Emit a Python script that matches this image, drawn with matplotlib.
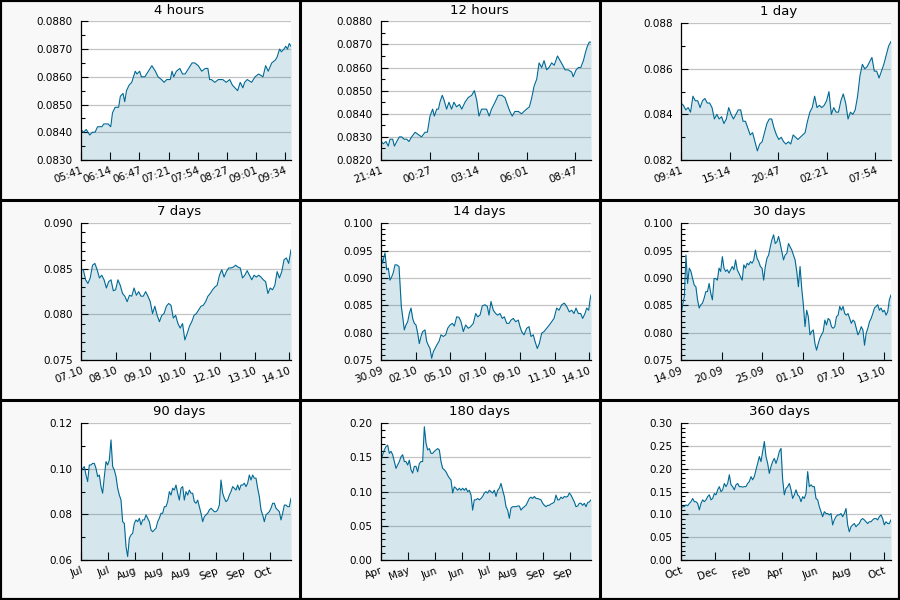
import numpy as np
import matplotlib
matplotlib.use("Agg")
import matplotlib.pyplot as plt
from matplotlib.ticker import MultipleLocator, FormatStrFormatter
from matplotlib.lines import Line2D

# ---- data ----
titles = ["4 hours", "12 hours", "1 day", "7 days", "14 days", "30 days",
          "90 days", "180 days", "360 days"]

# window length and x tick step, in hours
spans_h = [4, 12, 24, 168, 336, 720, 2160, 4320, 8640]
tick_step_h = [2000 / 3600, 10000 / 3600, 20000 / 3600, 100000 / 3600, 200000 / 3600,
               500000 / 3600, 1e6 / 3600, 2e6 / 3600, 5e6 / 3600]

labels_4h = ["05:41", "06:14", "06:47", "07:21", "07:54", "08:27", "09:01", "09:34"]
labels_12h = ["21:41", "00:27", "03:14", "06:01", "08:47"]
labels_1d = ["09:41", "15:14", "20:47", "02:21", "07:54"]
labels_7d = ["07.10", "08.10", "09.10", "10.10", "12.10", "13.10", "14.10"]
labels_14d = ["30.09", "02.10", "05.10", "07.10", "09.10", "11.10", "14.10"]
labels_30d = ["14.09", "20.09", "25.09", "01.10", "07.10", "13.10"]
labels_90d = ["Jul", "Jul", "Aug", "Aug", "Aug", "Sep", "Sep", "Oct"]
labels_180d = ["Apr", "May", "Jun", "Jun", "Jul", "Aug", "Sep", "Sep"]
labels_360d = ["Oct", "Dec", "Feb", "Apr", "Jun", "Aug", "Oct"]

# minutes since 05:41
t_4h = [0, 3, 6, 8, 10, 13, 16, 19, 24, 26, 31, 34, 36, 39, 43, 45, 48, 50, 52, 55,
        58, 60, 62, 64, 67, 69, 73, 77, 81, 85, 88, 92, 95, 98, 102, 104, 106, 109, 113, 116,
        119, 123, 127, 130, 134, 138, 142, 145, 147, 149, 153, 157, 162, 166, 170, 173, 176, 179, 182, 185,
        187, 190, 195, 199, 203, 208, 211, 214, 218, 222, 224, 227, 229, 232, 234, 236, 238, 240]
v_4h = [0.0841, 0.0840, 0.0841, 0.0840, 0.0839, 0.0840, 0.0840, 0.0842, 0.0842, 0.0843,
        0.0843, 0.0842, 0.0847, 0.0849, 0.0849, 0.0853, 0.0854, 0.0851, 0.0855, 0.0857,
        0.0858, 0.0860, 0.0862, 0.0861, 0.0862, 0.0860, 0.0860, 0.0862, 0.0864, 0.0862,
        0.0860, 0.0859, 0.0858, 0.0859, 0.0859, 0.0862, 0.0860, 0.0862, 0.0863, 0.0861,
        0.0861, 0.0863, 0.0865, 0.0865, 0.0864, 0.0862, 0.0863, 0.0863, 0.0859, 0.0859,
        0.0858, 0.0859, 0.0859, 0.0858, 0.0859, 0.0857, 0.0856, 0.0855, 0.0858, 0.0856,
        0.0858, 0.0859, 0.0858, 0.0860, 0.0861, 0.0860, 0.0864, 0.0862, 0.0865, 0.0866,
        0.0867, 0.0870, 0.0869, 0.0870, 0.0871, 0.0870, 0.0872, 0.0871]

# minutes since 21:41
t_12h = [0, 8, 17, 25, 31, 40, 46, 54, 63, 71, 79, 88, 96, 105, 117, 128, 139, 151, 159, 168,
         177, 183, 191, 197, 202, 210, 216, 225, 233, 242, 250, 259, 269, 277, 288, 299, 311, 320, 328, 336,
         345, 354, 362, 371, 379, 391, 402, 414, 425, 433, 442, 450, 459, 471, 482, 490, 499, 509, 517, 525,
         534, 542, 551, 559, 568, 576, 585, 594, 605, 614, 623, 631, 642, 654, 659, 669, 677, 685, 694, 702,
         707, 714, 720]
v_12h = [0.0828, 0.0827, 0.0828, 0.0826, 0.0829, 0.0829, 0.0826, 0.0828, 0.0830, 0.0830,
         0.0829, 0.0829, 0.0828, 0.0830, 0.0832, 0.0831, 0.0830, 0.0832, 0.0832, 0.0839,
         0.0842, 0.0839, 0.0842, 0.0842, 0.0845, 0.0848, 0.0846, 0.0842, 0.0845, 0.0842,
         0.0845, 0.0843, 0.0844, 0.0842, 0.0845, 0.0847, 0.0848, 0.0850, 0.0846, 0.0839,
         0.0842, 0.0842, 0.0842, 0.0839, 0.0842, 0.0845, 0.0848, 0.0848, 0.0847, 0.0844,
         0.0841, 0.0839, 0.0841, 0.0841, 0.0840, 0.0841, 0.0842, 0.0843, 0.0847, 0.0852,
         0.0855, 0.0862, 0.0860, 0.0863, 0.0859, 0.0860, 0.0862, 0.0861, 0.0865, 0.0863,
         0.0861, 0.0859, 0.0859, 0.0858, 0.0856, 0.0859, 0.0860, 0.0860, 0.0863, 0.0867,
         0.0869, 0.0871, 0.0871]

v_1d = [0.0845, 0.0844, 0.0842, 0.0843, 0.0841, 0.0848, 0.0846, 0.0846, 0.0843, 0.0846,
        0.0847, 0.0845, 0.0845, 0.0843, 0.0838, 0.0840, 0.0838, 0.0839, 0.0836, 0.0838,
        0.0843, 0.0840, 0.0838, 0.0840, 0.0842, 0.0842, 0.0837, 0.0837, 0.0834, 0.0831,
        0.0832, 0.0828, 0.0824, 0.0827, 0.0828, 0.0832, 0.0836, 0.0838, 0.0838, 0.0834,
        0.0831, 0.0829, 0.0830, 0.0828, 0.0827, 0.0828, 0.0827, 0.0831, 0.0830, 0.0829,
        0.0830, 0.0831, 0.0832, 0.0837, 0.0841, 0.0843, 0.0848, 0.0843, 0.0844, 0.0843,
        0.0844, 0.0846, 0.0850, 0.0840, 0.0843, 0.0841, 0.0841, 0.0846, 0.0849, 0.0845,
        0.0838, 0.0841, 0.0840, 0.0842, 0.0848, 0.0857, 0.0862, 0.0860, 0.0861, 0.0863,
        0.0865, 0.0859, 0.0859, 0.0856, 0.0859, 0.0862, 0.0866, 0.0870, 0.0872]

v_7d = [0.0849, 0.0849, 0.0838, 0.0834, 0.0840, 0.0854, 0.0856, 0.0849, 0.0840, 0.0843,
        0.0838, 0.0829, 0.0836, 0.0838, 0.0826, 0.0827, 0.0838, 0.0832, 0.0823, 0.0820,
        0.0814, 0.0821, 0.0820, 0.0829, 0.0821, 0.0825, 0.0820, 0.0820, 0.0825, 0.0820,
        0.0814, 0.0801, 0.0809, 0.0799, 0.0792, 0.0799, 0.0801, 0.0809, 0.0812, 0.0810,
        0.0796, 0.0799, 0.0790, 0.0785, 0.0790, 0.0772, 0.0779, 0.0787, 0.0792, 0.0799,
        0.0801, 0.0805, 0.0809, 0.0810, 0.0814, 0.0820, 0.0823, 0.0827, 0.0830, 0.0832,
        0.0843, 0.0849, 0.0841, 0.0847, 0.0851, 0.0851, 0.0852, 0.0854, 0.0852, 0.0851,
        0.0840, 0.0843, 0.0848, 0.0843, 0.0838, 0.0843, 0.0841, 0.0843, 0.0841, 0.0838,
        0.0836, 0.0823, 0.0829, 0.0827, 0.0832, 0.0847, 0.0840, 0.0847, 0.0860, 0.0862,
        0.0856, 0.0871]

# hours since 30.09
t_14d = [0, 2.7, 4.8, 6.4, 9.1, 11.7, 14.4, 17.1, 19.7, 22.4, 25.1, 28.8, 30.4, 32.5, 34.7,
         37.3, 40.0, 42.7, 45.3, 48.0, 50.7, 53.3, 56.0, 58.7, 61.3, 64.0, 66.7, 70.4, 73.1, 75.7,
         78.4, 81.1, 83.7, 86.4, 89.1, 92.8, 96.0, 99.7, 103.5, 106.7, 110.4, 114.1, 117.3, 121.1, 124.8,
         128.0, 131.7, 135.5, 139.7, 143.5, 147.7, 151.5, 154.7, 158.4, 162.1, 166.4, 170.1, 172.8, 176.0, 179.7,
         183.5, 186.7, 190.4, 194.1, 197.3, 201.1, 204.8, 208.0, 211.7, 215.5, 219.7, 222.4, 225.1, 228.8, 233.1,
         236.8, 240.0, 243.7, 246.4, 250.1, 253.3, 257.1, 260.8, 265.1, 269.3, 273.1, 276.8, 281.1, 284.8, 289.1,
         293.3, 297.1, 301.3, 305.1, 308.8, 312.0, 315.7, 319.5, 322.7, 326.4, 329.1, 332.3, 334.4, 336.0]
v_14d = [0.0942, 0.0927, 0.0939, 0.0946, 0.0915, 0.0918, 0.0896, 0.0902, 0.0910, 0.0924,
         0.0924, 0.0921, 0.0890, 0.0848, 0.0829, 0.0805, 0.0814, 0.0820, 0.0835, 0.0845,
         0.0826, 0.0817, 0.0814, 0.0799, 0.0780, 0.0793, 0.0802, 0.0805, 0.0784, 0.0777,
         0.0771, 0.0753, 0.0765, 0.0771, 0.0777, 0.0784, 0.0796, 0.0793, 0.0796, 0.0808,
         0.0814, 0.0817, 0.0812, 0.0829, 0.0828, 0.0820, 0.0802, 0.0814, 0.0808, 0.0811,
         0.0817, 0.0835, 0.0829, 0.0832, 0.0849, 0.0851, 0.0848, 0.0832, 0.0857, 0.0841,
         0.0835, 0.0832, 0.0835, 0.0826, 0.0829, 0.0817, 0.0817, 0.0823, 0.0826, 0.0820,
         0.0823, 0.0811, 0.0802, 0.0796, 0.0808, 0.0811, 0.0793, 0.0796, 0.0784, 0.0771,
         0.0780, 0.0799, 0.0802, 0.0808, 0.0814, 0.0820, 0.0826, 0.0845, 0.0841, 0.0851,
         0.0854, 0.0848, 0.0838, 0.0841, 0.0835, 0.0845, 0.0835, 0.0835, 0.0826, 0.0835,
         0.0845, 0.0841, 0.0860, 0.0869]

v_30d = [0.0832, 0.0851, 0.0866, 0.0942, 0.0890, 0.0918, 0.0912, 0.0899, 0.0887, 0.0884,
         0.0860, 0.0845, 0.0851, 0.0854, 0.0863, 0.0875, 0.0875, 0.0890, 0.0872, 0.0860,
         0.0899, 0.0899, 0.0896, 0.0918, 0.0912, 0.0939, 0.0918, 0.0912, 0.0915, 0.0909,
         0.0915, 0.0921, 0.0915, 0.0933, 0.0915, 0.0909, 0.0902, 0.0896, 0.0924, 0.0918,
         0.0927, 0.0924, 0.0930, 0.0927, 0.0933, 0.0951, 0.0936, 0.0930, 0.0921, 0.0918,
         0.0896, 0.0921, 0.0936, 0.0942, 0.0957, 0.0970, 0.0979, 0.0963, 0.0966, 0.0976,
         0.0963, 0.0948, 0.0933, 0.0942, 0.0945, 0.0963, 0.0957, 0.0951, 0.0942, 0.0933,
         0.0912, 0.0884, 0.0921, 0.0881, 0.0851, 0.0811, 0.0841, 0.0829, 0.0796, 0.0802,
         0.0805, 0.0780, 0.0768, 0.0780, 0.0790, 0.0796, 0.0802, 0.0823, 0.0814, 0.0826,
         0.0823, 0.0811, 0.0808, 0.0811, 0.0829, 0.0832, 0.0848, 0.0841, 0.0848, 0.0835,
         0.0832, 0.0835, 0.0826, 0.0817, 0.0823, 0.0820, 0.0808, 0.0796, 0.0802, 0.0811,
         0.0805, 0.0777, 0.0799, 0.0808, 0.0820, 0.0826, 0.0835, 0.0845, 0.0848, 0.0851,
         0.0841, 0.0845, 0.0838, 0.0841, 0.0832, 0.0838, 0.0860, 0.0869]

v_90d = [0.0988, 0.1002, 0.1010, 0.0973, 0.0944, 0.1017, 0.1017, 0.1024, 0.1024, 0.1002,
         0.0966, 0.0973, 0.0922, 0.0893, 0.0966, 0.1032, 0.1017, 0.1039, 0.1127, 0.1010,
         0.0995, 0.0966, 0.0915, 0.0885, 0.0863, 0.0768, 0.0761, 0.0659, 0.0615, 0.0695,
         0.0710, 0.0717, 0.0761, 0.0776, 0.0768, 0.0783, 0.0754, 0.0776, 0.0776, 0.0798,
         0.0783, 0.0768, 0.0732, 0.0724, 0.0732, 0.0739, 0.0768, 0.0783, 0.0805, 0.0805,
         0.0834, 0.0834, 0.0856, 0.0900, 0.0885, 0.0915, 0.0907, 0.0929, 0.0893, 0.0863,
         0.0915, 0.0922, 0.0863, 0.0900, 0.0885, 0.0907, 0.0893, 0.0893, 0.0856, 0.0849,
         0.0863, 0.0834, 0.0805, 0.0768, 0.0790, 0.0798, 0.0805, 0.0820, 0.0827, 0.0820,
         0.0812, 0.0812, 0.0820, 0.0841, 0.0951, 0.0893, 0.0871, 0.0856, 0.0863, 0.0885,
         0.0900, 0.0922, 0.0915, 0.0907, 0.0929, 0.0907, 0.0929, 0.0929, 0.0937, 0.0922,
         0.0937, 0.0973, 0.0951, 0.0973, 0.0959, 0.0959, 0.0915, 0.0878, 0.0820, 0.0798,
         0.0768, 0.0798, 0.0805, 0.0812, 0.0827, 0.0849, 0.0849, 0.0827, 0.0820, 0.0812,
         0.0776, 0.0805, 0.0841, 0.0841, 0.0834, 0.0834, 0.0871]

v_180d = [0.146, 0.154, 0.161, 0.166, 0.168, 0.156, 0.159, 0.154, 0.144, 0.134,
          0.139, 0.144, 0.151, 0.154, 0.144, 0.144, 0.139, 0.146, 0.132, 0.127,
          0.137, 0.137, 0.129, 0.141, 0.144, 0.144, 0.195, 0.171, 0.161, 0.163,
          0.156, 0.156, 0.159, 0.161, 0.163, 0.161, 0.144, 0.134, 0.132, 0.129,
          0.124, 0.120, 0.117, 0.098, 0.107, 0.105, 0.102, 0.105, 0.102, 0.105,
          0.102, 0.105, 0.100, 0.102, 0.095, 0.073, 0.088, 0.088, 0.090, 0.088,
          0.090, 0.093, 0.098, 0.100, 0.098, 0.102, 0.100, 0.098, 0.102, 0.093,
          0.102, 0.105, 0.112, 0.102, 0.093, 0.078, 0.073, 0.061, 0.076, 0.078,
          0.078, 0.078, 0.079, 0.079, 0.073, 0.076, 0.078, 0.080, 0.085, 0.090,
          0.092, 0.090, 0.093, 0.090, 0.090, 0.089, 0.088, 0.083, 0.080, 0.078,
          0.080, 0.080, 0.082, 0.083, 0.085, 0.095, 0.088, 0.088, 0.092, 0.090,
          0.093, 0.092, 0.093, 0.098, 0.095, 0.090, 0.085, 0.078, 0.079, 0.083,
          0.083, 0.080, 0.083, 0.078, 0.084, 0.085, 0.088]

v_360d = [0.113, 0.117, 0.117, 0.121, 0.119, 0.124, 0.128, 0.135, 0.128, 0.128,
          0.124, 0.110, 0.124, 0.132, 0.128, 0.132, 0.139, 0.143, 0.132, 0.135,
          0.146, 0.143, 0.154, 0.161, 0.150, 0.154, 0.168, 0.161, 0.168, 0.187,
          0.165, 0.161, 0.154, 0.165, 0.168, 0.161, 0.161, 0.160, 0.161, 0.161,
          0.168, 0.172, 0.183, 0.176, 0.183, 0.198, 0.212, 0.227, 0.216, 0.238,
          0.260, 0.227, 0.212, 0.190, 0.205, 0.216, 0.223, 0.212, 0.223, 0.238,
          0.245, 0.176, 0.143, 0.157, 0.161, 0.168, 0.154, 0.135, 0.143, 0.154,
          0.143, 0.139, 0.128, 0.139, 0.135, 0.146, 0.194, 0.161, 0.165, 0.161,
          0.161, 0.135, 0.132, 0.117, 0.106, 0.095, 0.106, 0.102, 0.102, 0.099,
          0.102, 0.077, 0.088, 0.095, 0.099, 0.099, 0.102, 0.095, 0.102, 0.113,
          0.077, 0.062, 0.073, 0.077, 0.080, 0.073, 0.077, 0.080, 0.088, 0.091,
          0.088, 0.084, 0.080, 0.084, 0.084, 0.088, 0.091, 0.091, 0.088, 0.095,
          0.099, 0.091, 0.077, 0.084, 0.080, 0.080, 0.088]

values = [v_4h, v_12h, v_1d, v_7d, v_14d, v_30d, v_90d, v_180d, v_360d]
# sample times in hours where read; None means evenly spaced over the window
times_h = [np.array(t_4h) / 60, np.array(t_12h) / 60, None, None, np.array(t_14d),
           None, None, None, None]
labels = [labels_4h, labels_12h, labels_1d, labels_7d, labels_14d, labels_30d,
          labels_90d, labels_180d, labels_360d]

ylims = [(0.083, 0.088), (0.082, 0.088), (0.082, 0.088), (0.075, 0.090), (0.075, 0.100),
         (0.075, 0.100), (0.06, 0.12), (0.0, 0.20), (0.0, 0.30)]
ymajor = [0.001, 0.001, 0.002, 0.005, 0.005, 0.005, 0.02, 0.05, 0.05]
yminor = [0.0005, 0.0005, 0.001, 0.001, 0.001, 0.001, 0.01, 0.01, 0.01]
yfmt = ["%.4f", "%.4f", "%.3f", "%.3f", "%.3f", "%.3f", "%.2f", "%.2f", "%.2f"]

LINE = "#006994"
W, H = 900, 600

fig = plt.figure(figsize=(9, 6), dpi=100, facecolor="#f8f8f8")

for i in range(9):
    r, c = divmod(i, 3)
    px, py = c * 300, r * 200
    top = 21.3 if i < 2 else 23.3
    ax = fig.add_axes([(px + 81) / W, 1 - (py + 160) / H, 210 / W, (160 - top) / H])
    ax.set_facecolor("white")

    vals = np.array(values[i])
    if times_h[i] is None:
        x = np.linspace(0, spans_h[i], len(vals))
    else:
        x = times_h[i]
    lo, hi = ylims[i]
    ax.fill_between(x, vals, lo, color=LINE, alpha=0.16, lw=0, zorder=1)
    ax.plot(x, vals, color=LINE, lw=0.8, zorder=2)

    ax.set_xlim(0, spans_h[i])
    ax.set_ylim(lo, hi)
    ax.yaxis.set_major_locator(MultipleLocator(ymajor[i]))
    ax.yaxis.set_minor_locator(MultipleLocator(yminor[i]))
    ax.yaxis.set_major_formatter(FormatStrFormatter(yfmt[i]))

    ax.set_xticks(np.arange(len(labels[i])) * tick_step_h[i])
    ax.set_xticklabels(labels[i], rotation=20, ha="right", va="top",
                       rotation_mode="anchor")

    ax.tick_params(axis="y", which="major", direction="in", length=5, width=0.8,
                   labelsize=7.5, pad=6, colors="black")
    ax.tick_params(axis="y", which="minor", direction="in", length=3, width=0.8)
    ax.tick_params(axis="x", which="major", direction="in", length=6, width=0.8,
                   labelsize=7.5, pad=4)

    ax.yaxis.grid(True, which="major", color="#c4c4c4", lw=0.9)
    ax.set_axisbelow(True)
    for s in ["top", "right"]:
        ax.spines[s].set_visible(False)
    for s in ["left", "bottom"]:
        ax.spines[s].set_linewidth(0.9)

    fig.text((px + 179) / W, 1 - (py + 11) / H, titles[i], ha="center", va="center",
             fontsize=9.5)

# panel borders
for k in (1, 2):
    fig.add_artist(Line2D([k / 3, k / 3], [0, 1], transform=fig.transFigure,
                          color="black", lw=2.2))
    fig.add_artist(Line2D([0, 1], [k / 3, k / 3], transform=fig.transFigure,
                          color="black", lw=2.2))
fig.add_artist(plt.Rectangle((0, 0), 1, 1, transform=fig.transFigure, fill=False,
                             edgecolor="black", lw=3))

fig.savefig("out.png", dpi=100, facecolor=fig.get_facecolor())
